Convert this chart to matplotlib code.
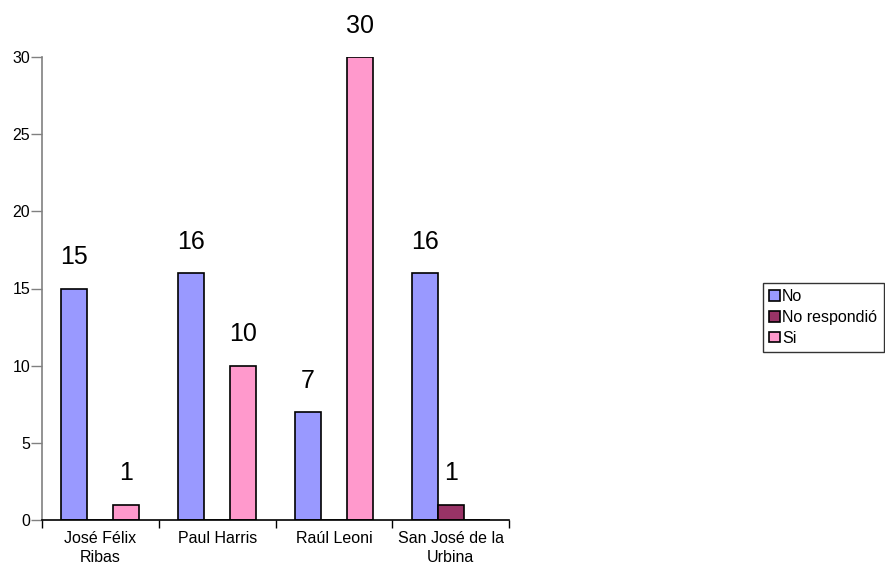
import numpy as np
import matplotlib
matplotlib.use("Agg")
import matplotlib.pyplot as plt

categories = ["José Félix\nRibas", "Paul Harris", "Raúl Leoni", "San José de la\nUrbina"]
series = ["No", "No respondió", "Si"]
no_vals = [15, 16, 7, 16]
noresp_vals = [0, 0, 0, 1]
si_vals = [1, 10, 30, 0]
colors = ["#9999FF", "#993366", "#FF99CC"]

plt.rcParams["font.family"] = ["Liberation Sans", "DejaVu Sans"]

fig = plt.figure(figsize=(8.85, 5.70), dpi=100)
ax = fig.add_axes([42 / 885, 1 - 520 / 570, (509 - 42) / 885, (520 - 57) / 570])

x = np.arange(len(categories))
w = 0.222
offsets = [-w, 0, w]
handles = []
for name, vals, col, off in zip(series, [no_vals, noresp_vals, si_vals], colors, offsets):
    bars = ax.bar(x + off, vals, width=w, color=col, edgecolor="black", linewidth=1.2,
                  label=name)
    handles.append(bars)
    for xi, v in zip(x + off, vals):
        if v > 0:
            ax.annotate(str(v), (xi, v), xytext=(0, 14), textcoords="offset points",
                        ha="center", va="bottom", fontsize=18)

ax.set_xlim(-0.5, len(categories) - 0.5)
ax.set_ylim(0, 30)
ax.set_yticks([0, 5, 10, 15, 20, 25, 30])
ax.tick_params(axis="y", direction="out", length=8, width=1, color="#808080",
               labelsize=11.5, pad=0.5)

# category labels at centres, tick marks at group boundaries
ax.set_xticks(np.arange(len(categories) + 1) - 0.5)
ax.set_xticklabels([])
ax.set_xticks(x, minor=True)
ax.set_xticklabels(categories, minor=True, fontsize=11.5, linespacing=1.35)
ax.tick_params(axis="x", which="major", direction="out", length=6, width=1, color="black")
ax.tick_params(axis="x", which="minor", length=0, pad=8)

for s in ["top", "right"]:
    ax.spines[s].set_visible(False)
ax.spines["left"].set_color("#808080")
ax.spines["left"].set_linewidth(1.2)
ax.spines["bottom"].set_color("black")
ax.spines["bottom"].set_linewidth(1.2)
ax.patch.set_alpha(0)

leg = fig.legend(handles=handles, labels=series, loc="upper left",
                 bbox_to_anchor=(763 / 885, 1 - 283 / 570), fontsize=11.5,
                 frameon=True, fancybox=False, handlelength=0.65, handleheight=0.65,
                 handletextpad=0.15, borderpad=0.4, labelspacing=0.35,
                 borderaxespad=0)
leg.get_frame().set_edgecolor("black")
leg.get_frame().set_linewidth(1.0)

fig.savefig("out.png", dpi=100)
